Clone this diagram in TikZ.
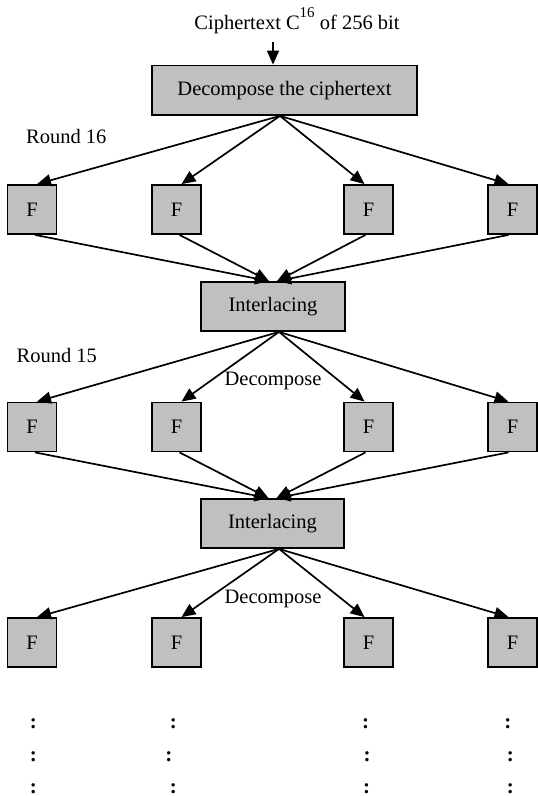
\documentclass[tikz,border=0pt]{standalone}
\usepackage{fontspec}
\setmainfont{Liberation Serif}
\usetikzlibrary{arrows.meta,calc}
\definecolor{boxgray}{HTML}{C0C0C0}
\begin{document}
\begin{tikzpicture}[x=1pt,y=-1pt,
  every node/.style={font=\fontsize{20.5}{24}\selectfont},
  gbox/.style={draw=black,line width=1.8pt,fill=boxgray,inner sep=0pt},
  fbox/.style={gbox,minimum width=49pt,minimum height=49pt},
  wbox/.style={gbox,minimum height=49pt},
  arr/.style={line width=1.7pt,-{Triangle[length=14pt,width=12pt]}},
  lbl/.style={inner sep=0pt,anchor=base},
  dots/.style={inner sep=0pt,anchor=base,font=\fontsize{21}{24}\selectfont\bfseries}]
\useasboundingbox (0,0) rectangle (538,796);
% title
\node[lbl] (title) at (297,29) {Ciphertext C\raisebox{0.55em}{\fontsize{15}{15}\selectfont 16} of 256 bit};
\coordinate (cin) at (273,42);
\node[wbox,minimum width=265pt,minimum height=49.5pt] (dec) at (284.5,90.25) {Decompose the ciphertext};
\draw[arr] (cin) -- (cin |- dec.north);
% labels
\node[lbl,anchor=base west] (r16) at (26,143) {Round 16};
\node[lbl,anchor=base west] (r15) at (16.5,362) {Round 15};
% F boxes
\foreach \r/\y in {1/209.5,2/427,3/642.5}{
  \foreach \c/\x in {1/32,2/176.5,3/368.5,4/512.5}{
    \node[fbox] (f\r\c) at (\x,\y) {F};
  }
}
% interlacing
\node[wbox,minimum width=144pt] (int1) at (273,306.5) {Interlacing};
\node[wbox,minimum width=143pt] (int2) at (272.5,523.5) {Interlacing};
% sources
\coordinate (s0) at ($(dec.south)+(-4.5,0)$);
\coordinate (s1) at ($(int1.south)+(6,0)$);
\coordinate (s2) at ($(int2.south)+(6.5,0)$);
% fan out
\foreach \s/\r in {s0/1,s1/2,s2/3}{
  \draw[arr] (\s) -- ($(f\r1.north)+(5,0)$);
  \draw[arr] (\s) -- ($(f\r2.north)+(5,0)$);
  \draw[arr] (\s) -- ($(f\r3.north)+(-4,0)$);
  \draw[arr] (\s) -- ($(f\r4.north)+(-4,0)$);
}
% fan in
\foreach \r/\t in {1/int1,2/int2}{
  \draw[arr] ($(f\r1.south)+(3,0)$) -- ($(\t.north)+(-4,0)$);
  \draw[arr] ($(f\r2.south)+(3,0)$) -- ($(\t.north)+(-4,0)$);
  \draw[arr] ($(f\r3.south)+(-3,0)$) -- ($(\t.north)+(4,0)$);
  \draw[arr] ($(f\r4.south)+(-4,0)$) -- ($(\t.north)+(4,0)$);
}
% decompose labels
\node[lbl] (dl1) at (273,385) {Decompose};
\node[lbl] (dl2) at (273,603) {Decompose};
% continuation dots
\node[dots] (da1) at (33.3,728) {:};
\node[dots] (da2) at (173.3,728) {:};
\node[dots] (da3) at (365.5,728) {:};
\node[dots] (da4) at (507.9,728) {:};
\node[dots] (db1) at (33.3,761) {:};
\node[dots] (db2) at (168.8,761) {:};
\node[dots] (db3) at (367.2,761) {:};
\node[dots] (db4) at (510.3,761) {:};
\node[dots] (dc1) at (33.3,793) {:};
\node[dots] (dc2) at (173.3,793) {:};
\node[dots] (dc3) at (366.5,793) {:};
\node[dots] (dc4) at (510.3,793) {:};
\end{tikzpicture}
\end{document}
